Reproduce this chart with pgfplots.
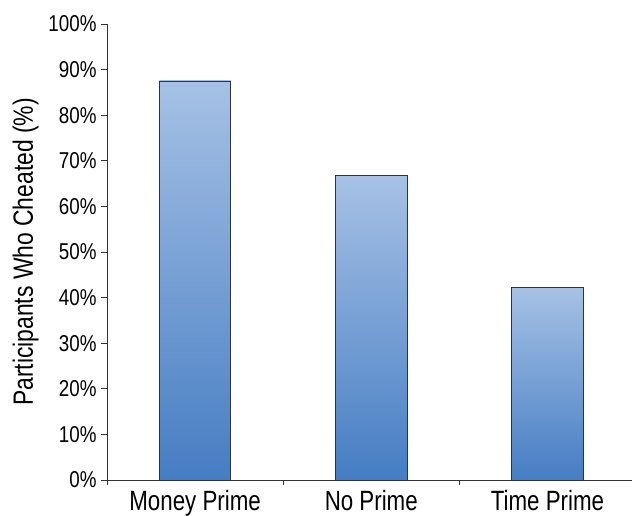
\documentclass[border=0pt]{standalone}
\usepackage{fontspec}
\setmainfont[FakeStretch=0.82]{Liberation Sans}
\newfontfamily\condx[FakeStretch=0.80]{Liberation Sans}
\usepackage{pgfplots}
\pgfplotsset{compat=1.18}
\definecolor{barTop}{HTML}{A6C1E5}
\definecolor{barBot}{HTML}{457DC3}
\definecolor{axgray}{HTML}{333333}
\pgfplotsset{mybar/.style={ybar, bar width=71.5bp, bar shift=0pt, draw=black!80, line width=0.9pt,
  top color=barTop, bottom color=barBot}}
\begin{document}
\begin{tikzpicture}
\begin{axis}[
  name=a,
  scale only axis,
  width=525bp, height=456bp,
  xmin=-0.5, xmax=2.48,
  ymin=0, ymax=100,
  axis x line=bottom, axis y line=left,
  axis line style={-, axgray, line width=0.9pt},
  tick style={axgray, line width=0.9pt},
  tick align=outside,
  major tick length=6bp,
  minor tick length=5bp,
  ytick={0,10,...,100},
  yticklabel={\pgfmathprintnumber{\tick}\%},
  /pgf/number format/assume math mode=true,
  xtick={0,1,2},
  xticklabels={Money Prime, No Prime, Time Prime},
  x tick style={draw=none},
  minor xtick={-0.5,0.5,1.5},
  minor x tick style={axgray, line width=0.9pt, draw},
  ylabel={Participants Who Cheated (\%)},
  yticklabel style={font=\fontsize{23}{27}\selectfont, xshift=-1bp},
  xticklabel style={font=\condx\fontsize{28}{32}\selectfont, yshift=-1bp},
  ylabel style={font=\fontsize{28}{32}\selectfont, yshift=3bp},
]
\addplot[mybar] coordinates {(0,87.5)};
\addplot[mybar] coordinates {(1,66.7)};
\addplot[mybar] coordinates {(2,42.3)};
\end{axis}
\pgfresetboundingbox
\path ([xshift=-107bp,yshift=-36bp]a.south west) rectangle ([yshift=24bp]a.north east);
\end{tikzpicture}
\end{document}
